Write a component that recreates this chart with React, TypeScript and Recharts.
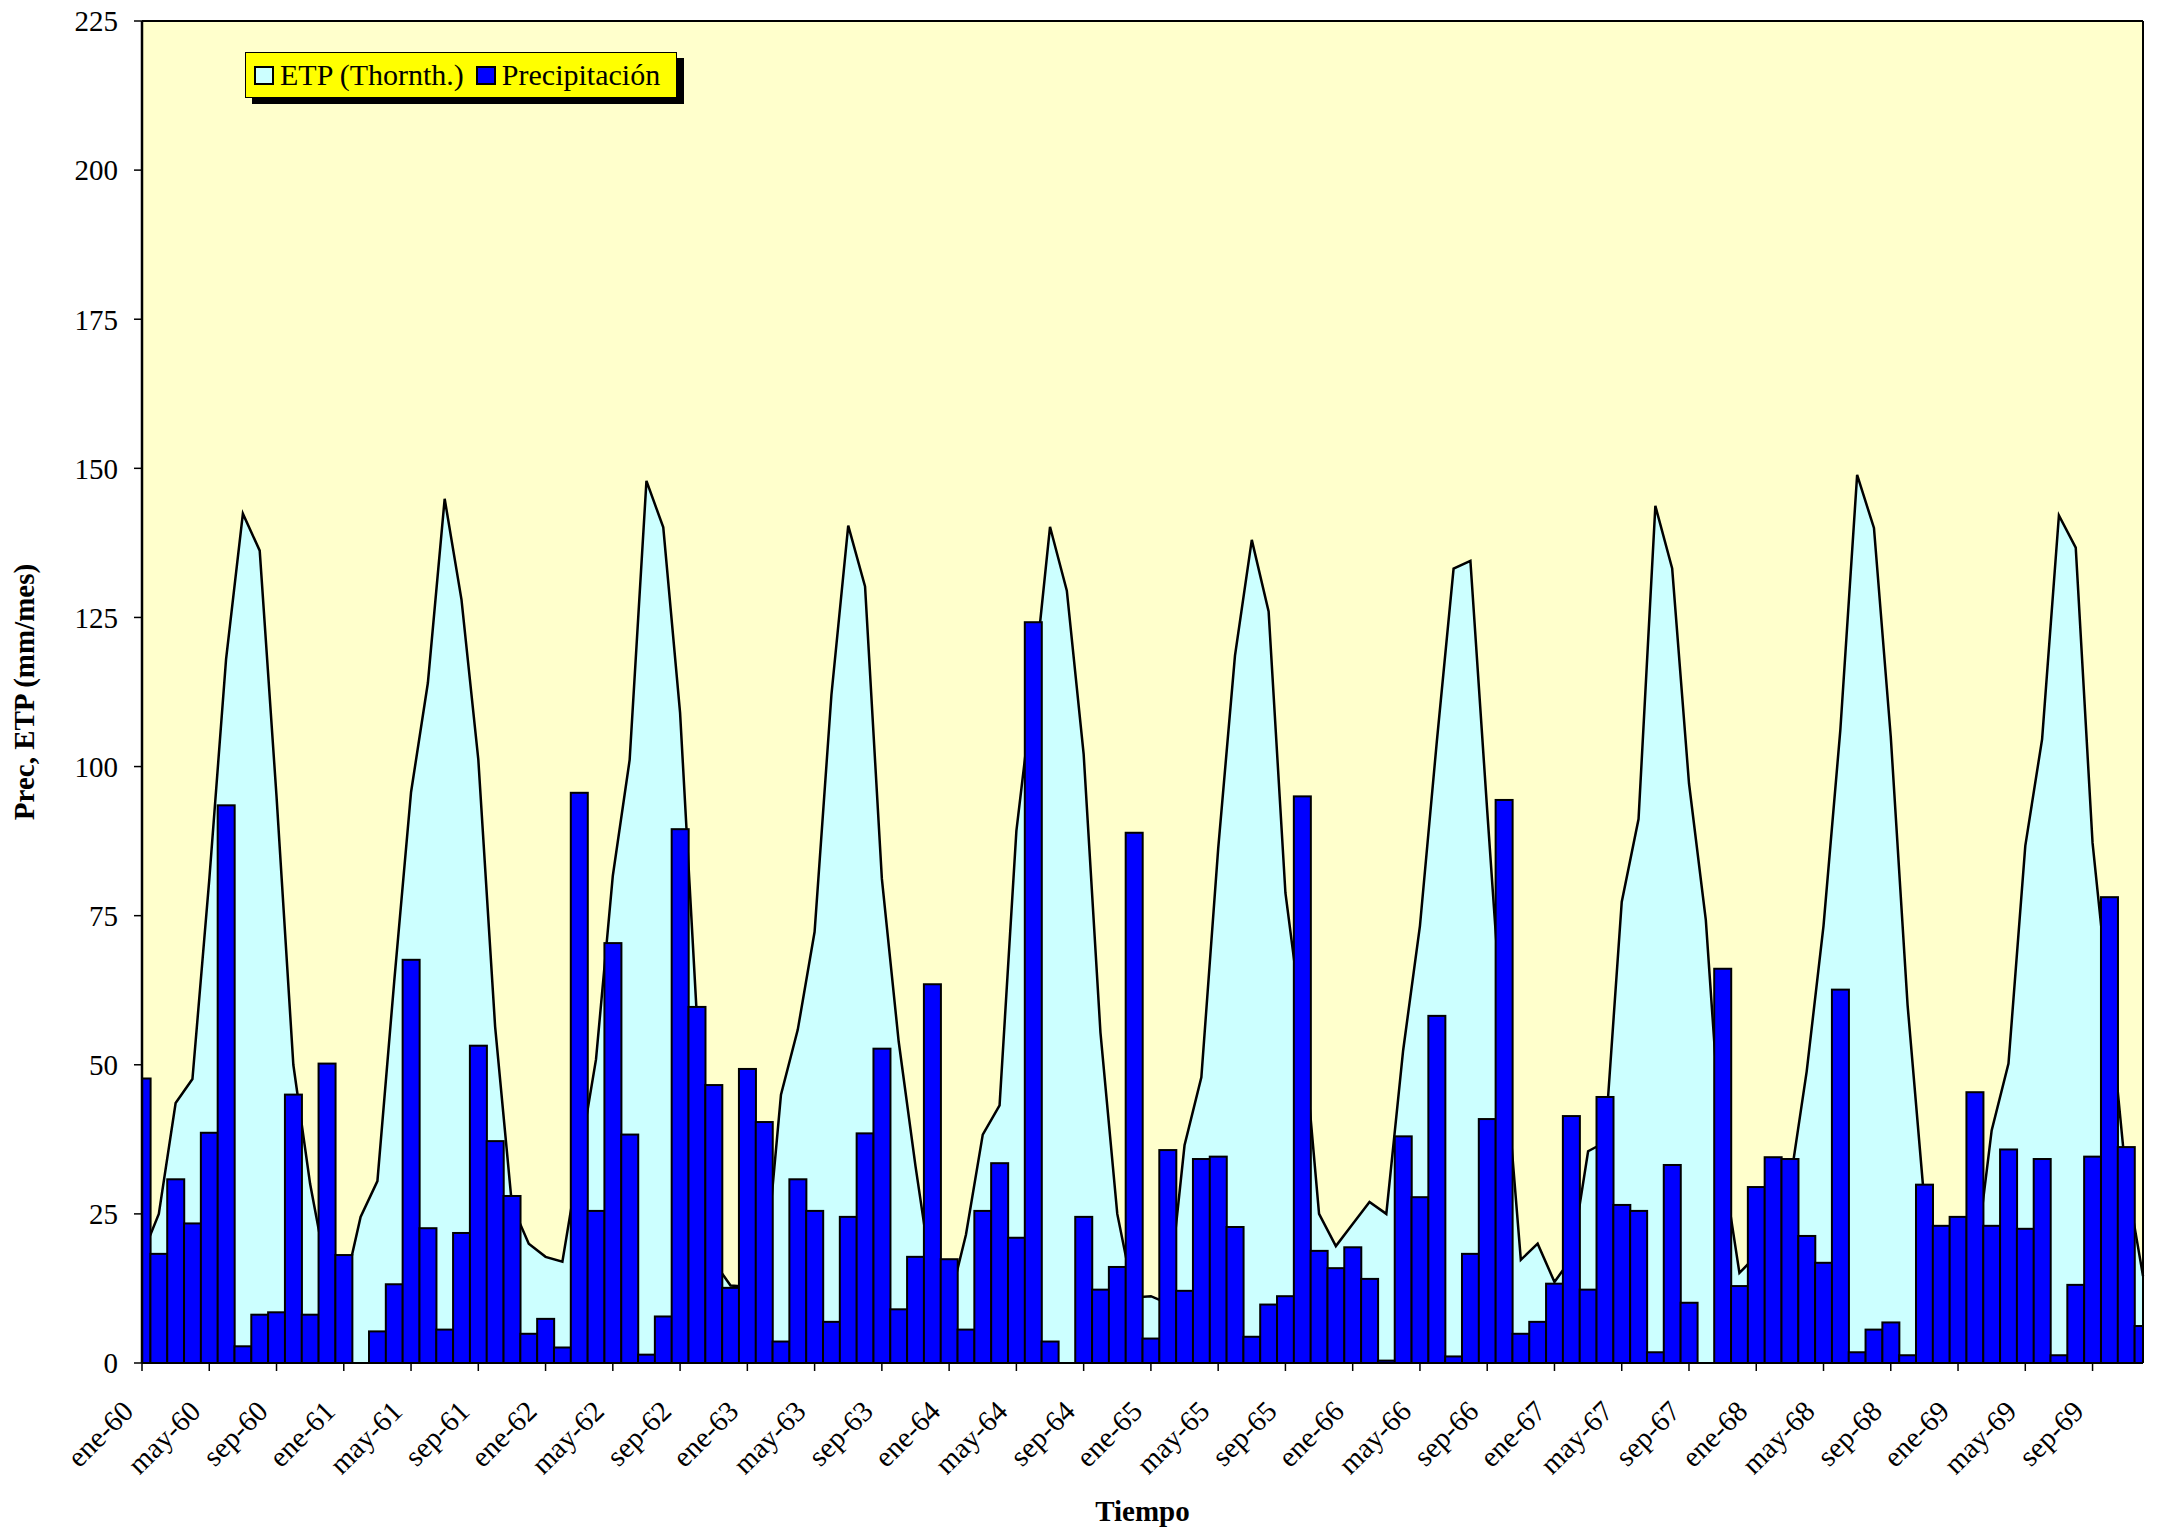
import React from 'react';
import { ComposedChart, Bar, Area, XAxis, YAxis, CartesianGrid, Legend, ReferenceLine } from 'recharts';

const months = ['ene', 'feb', 'mar', 'abr', 'may', 'jun', 'jul', 'ago', 'sep', 'oct', 'nov', 'dic'];
const years = ['60', '61', '62', '63', '64', '65', '66', '67', '68', '69'];
const categories = years.flatMap((y) => months.map((m) => `${m}-${y}`));

// ETP (Thornthwaite), mm/mes
const etp = [
  18, 25, 43.6, 47.6, 81, 118, 142.4, 136.2, 95, 50, 30, 15,
  12, 24.5, 30.5, 64, 95.7, 114, 144.9, 128, 101.2, 56.4, 26.5, 20,
  17.8, 17, 34, 50.9, 81.7, 101.1, 147.9, 140.1, 109, 58, 17, 13,
  12.8, 14, 45, 55.9, 72.3, 112, 140.4, 130.2, 81.2, 53.9, 33, 14,
  10, 21.5, 38.3, 43.2, 89.2, 113, 140.2, 129.5, 102.1, 55.4, 25, 11,
  11.2, 10, 36.5, 47.9, 86.2, 118.6, 138, 126, 78.8, 57, 25, 19.6,
  23.3, 27, 25, 52.4, 73.3, 104.1, 133.2, 134.5, 92.6, 52, 17.3, 20,
  13.6, 17.5, 35.5, 37, 77.3, 91.2, 143.7, 133.2, 97.2, 74.3, 33.5, 15.1,
  18, 23, 30, 48.9, 73.3, 106.1, 148.9, 140, 105, 60, 27, 15,
  12, 16, 39, 50.2, 86.7, 104.6, 142.1, 136.7, 87.2, 60, 31, 14.6,
];

// Precipitación, mm/mes
const prec = [
  47.7, 18.3, 30.8, 23.4, 38.6, 93.5, 2.8, 8.1, 8.5, 45.0, 8.1, 50.2,
  18.1, 0, 5.3, 13.2, 67.6, 22.6, 5.6, 21.8, 53.2, 37.2, 28.0, 4.9,
  7.4, 2.6, 95.6, 25.5, 70.4, 38.3, 1.4, 7.8, 89.5, 59.7, 46.6, 12.6,
  49.3, 40.4, 3.6, 30.8, 25.5, 6.9, 24.5, 38.5, 52.7, 9.0, 17.8, 63.5,
  17.4, 5.6, 25.5, 33.5, 21.0, 124.2, 3.6, 0, 24.5, 12.3, 16.1, 88.9,
  4.1, 35.7, 12.1, 34.2, 34.6, 22.8, 4.4, 9.8, 11.2, 95.0, 18.8, 15.9,
  19.4, 14.1, 0.4, 38.0, 27.8, 58.2, 1.1, 18.3, 40.9, 94.4, 4.9, 6.9,
  13.3, 41.4, 12.3, 44.6, 26.5, 25.5, 1.8, 33.2, 10.1, 0, 66.1, 12.9,
  29.5, 34.5, 34.2, 21.3, 16.8, 62.6, 1.8, 5.6, 6.8, 1.3, 29.9, 23.0,
  24.5, 45.4, 23.0, 35.8, 22.5, 34.2, 1.3, 13.1, 34.6, 78.1, 36.2, 6.2,
];

const yTicks = [0, 25, 50, 75, 100, 125, 150, 175, 200, 225];

const data = categories.map((label, i) => ({ label, etp: etp[i], prec: prec[i] }));

const FONT = "'Liberation Serif', 'Times New Roman', serif";
const W = 2158;
const H = 1530;
const PLOT_LEFT = 142;
const PLOT_RIGHT = 2143;
const PLOT_TOP = 21;
const PLOT_BOTTOM = 1363;
const PLOT_W = PLOT_RIGHT - PLOT_LEFT;
const HALF_BAND = PLOT_W / (categories.length - 1) / 2;
const Y_AXIS_W = 100;
const X_AXIS_H = 120;

const XTick = (props: any) => {
  const { x, y, payload } = props;
  const px = x - 7;
  const py = y + 40;
  return (
    <text
      x={px}
      y={py}
      transform={`rotate(-45 ${px} ${py})`}
      textAnchor="end"
      fontSize={29}
      fontFamily={FONT}
      fill="#000"
    >
      {payload.value}
    </text>
  );
};

// Bars are centred on the category points; the outermost halves fall outside the plot frame and are cut off there.
const ClippedBar = (props: any) => {
  const { x, y, width, height, fill, stroke, strokeWidth } = props;
  const x0 = Math.max(x, PLOT_LEFT);
  const x1 = Math.min(x + width, PLOT_RIGHT);
  if (!(x1 > x0) || !(height > 0)) return <g />;
  return <rect x={x0} y={y} width={x1 - x0} height={height} fill={fill} stroke={stroke} strokeWidth={strokeWidth} />;
};

const YTitle = () => (
  <text
    x={34}
    y={(PLOT_TOP + PLOT_BOTTOM) / 2}
    transform={`rotate(-90 34 ${(PLOT_TOP + PLOT_BOTTOM) / 2})`}
    textAnchor="middle"
    fontSize={29}
    fontWeight="bold"
    fontFamily={FONT}
    fill="#000"
  >
    Prec, ETP (mm/mes)
  </text>
);

const XTitle = () => (
  <text
    x={(PLOT_LEFT + PLOT_RIGHT) / 2}
    y={1521}
    textAnchor="middle"
    fontSize={29}
    fontWeight="bold"
    fontFamily={FONT}
    fill="#000"
  >
    Tiempo
  </text>
);

const LegendBox = () => (
  <div
    style={{
      background: '#FFFF00',
      border: '1px solid #000',
      boxShadow: '7px 6px 0 #000',
      display: 'flex',
      alignItems: 'center',
      padding: '4px 16px 4px 8px',
      height: 36,
      fontFamily: FONT,
      fontSize: 30,
      color: '#000',
      whiteSpace: 'nowrap',
    }}
  >
    <span style={{ display: 'inline-block', width: 16, height: 15, background: '#CCFFFF', border: '2px solid #000', marginRight: 6 }} />
    <span style={{ marginRight: 12 }}>ETP (Thornth.)</span>
    <span style={{ display: 'inline-block', width: 16, height: 15, background: '#0000FF', border: '2px solid #000', marginRight: 6 }} />
    <span>Precipitación</span>
  </div>
);

export default function App() {
  return (
    <div style={{ position: 'absolute', left: 0, top: 0, width: W, height: H, background: '#fff' }}>
      <ComposedChart
        width={W}
        height={H}
        data={data}
        barCategoryGap={0}
        barGap={0}
        margin={{ top: PLOT_TOP, right: W - PLOT_RIGHT - 1, bottom: H - PLOT_BOTTOM - X_AXIS_H, left: PLOT_LEFT - Y_AXIS_W }}
      >
        <CartesianGrid vertical={false} fill="#FFFFCC" fillOpacity={1} stroke="#222" strokeWidth={1} />
        <XAxis
          dataKey="label"
          interval={3}
          height={X_AXIS_H}
          padding={{ left: -HALF_BAND, right: -HALF_BAND }}
          allowDataOverflow
          tick={<XTick />}
          tickSize={8}
          tickLine={{ stroke: '#000', strokeWidth: 1.5 }}
          axisLine={{ stroke: '#000', strokeWidth: 2 }}
          label={{ content: () => <XTitle /> }}
        />
        <YAxis
          yAxisId="l"
          width={Y_AXIS_W}
          domain={[0, 225]}
          ticks={yTicks}
          allowDataOverflow
          tickSize={8}
          tickMargin={16}
          tick={{ fontSize: 29, fontFamily: FONT, fill: '#000' }}
          tickLine={{ stroke: '#000', strokeWidth: 1.5 }}
          axisLine={{ stroke: '#000', strokeWidth: 2.5 }}
          label={{ content: () => <YTitle /> }}
        />
        <YAxis
          yAxisId="r"
          orientation="right"
          width={1}
          domain={[0, 225]}
          ticks={yTicks}
          tick={false}
          tickLine={false}
          axisLine={{ stroke: '#000', strokeWidth: 2 }}
        />
        <ReferenceLine yAxisId="l" y={225} stroke="#000" strokeWidth={2} />
        <Legend
          layout="vertical"
          align="center"
          verticalAlign="middle"
          content={() => <LegendBox />}
          wrapperStyle={{ position: 'absolute', left: 245, top: 52, width: 'auto', height: 'auto' }}
        />
        <Area
          yAxisId="l"
          type="linear"
          dataKey="etp"
          name="ETP (Thornth.)"
          fill="#CCFFFF"
          fillOpacity={1}
          stroke="#000"
          strokeWidth={2.5}
          dot={false}
          activeDot={false}
          isAnimationActive={false}
        />
        <Bar
          yAxisId="l"
          dataKey="prec"
          name="Precipitación"
          fill="#0000FF"
          stroke="#000"
          strokeWidth={2}
          shape={ClippedBar}
          isAnimationActive={false}
        />
      </ComposedChart>
    </div>
  );
}
